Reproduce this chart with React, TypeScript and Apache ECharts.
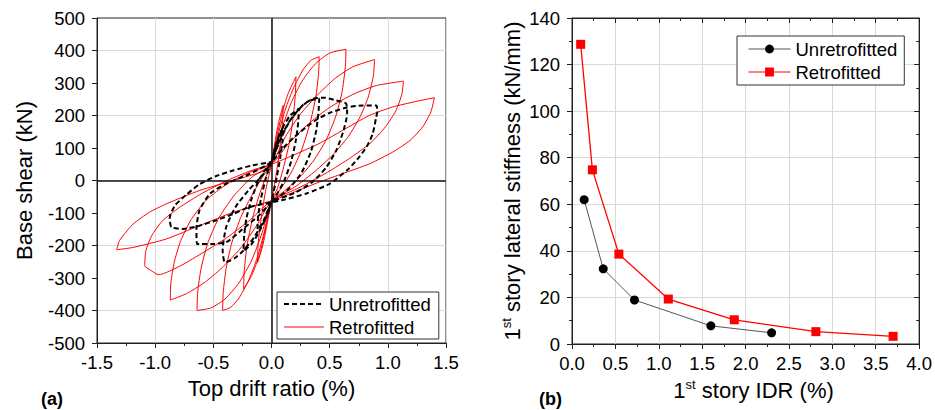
import React, { useEffect, useRef } from "react";
import * as echarts from "echarts";

const FONT = '"Liberation Sans", Arial, Helvetica, sans-serif';

// ---------- Panel (a): hysteresis, [top drift ratio (%), base shear (kN)] ----------
const retrofittedCycle1 = [
  [0, 50], [0.03, 120], [0.065, 185], [0.1, 231], [0.095, 180], [0.075, 110], [0.045, 30], [0.015, -35],
  [0, -62], [-0.035, -130], [-0.075, -200], [-0.12, -253], [-0.115, -195], [-0.09, -120], [-0.055, -40], [-0.02, 20], [0, 50],
];
const retrofittedCycle2 = [
  [0, 50], [0.04, 125], [0.09, 205], [0.14, 265], [0.21, 319], [0.205, 265], [0.185, 190], [0.15, 110], [0.1, 35], [0.05, -25],
  [0, -62], [-0.05, -145], [-0.1, -225], [-0.17, -292], [-0.24, -334], [-0.235, -280], [-0.21, -200], [-0.165, -120], [-0.11, -50], [-0.05, 10], [0, 50],
];
const retrofittedCycle3 = [
  [0, 50], [0.06, 145], [0.12, 220], [0.19, 285], [0.27, 340], [0.34, 370], [0.41, 381], [0.405, 330], [0.38, 255], [0.33, 175], [0.26, 95], [0.17, 25], [0.08, -25],
  [0, -62], [-0.06, -155], [-0.12, -235], [-0.2, -310], [-0.28, -362], [-0.35, -390], [-0.42, -400], [-0.415, -345], [-0.39, -270], [-0.34, -190], [-0.26, -110], [-0.16, -40], [-0.07, 15], [0, 50],
];
const retrofittedCycle4 = [
  [0, 50], [0.08, 150], [0.17, 240], [0.27, 310], [0.38, 360], [0.5, 392], [0.64, 404], [0.635, 350], [0.605, 270], [0.55, 195], [0.47, 125], [0.36, 60], [0.23, 5], [0.1, -35],
  [0, -62], [-0.08, -160], [-0.17, -245], [-0.28, -315], [-0.4, -365], [-0.52, -392], [-0.64, -400], [-0.635, -345], [-0.605, -270], [-0.55, -195], [-0.46, -120], [-0.33, -50], [-0.17, 10], [0, 50],
];
const retrofittedCycle5 = [
  [0, 50], [0.12, 135], [0.25, 205], [0.4, 265], [0.55, 315], [0.7, 350], [0.886, 372], [0.875, 320], [0.83, 255], [0.76, 195], [0.66, 135], [0.53, 80], [0.38, 30], [0.2, -20],
  [0, -62], [-0.13, -140], [-0.27, -210], [-0.43, -270], [-0.58, -315], [-0.73, -348], [-0.87, -368], [-0.865, -315], [-0.835, -250], [-0.78, -185], [-0.69, -120], [-0.56, -60], [-0.38, -10], [-0.19, 25], [0, 50],
];
const retrofittedCycle6 = [
  [0, 50], [0.15, 115], [0.32, 175], [0.5, 225], [0.7, 265], [0.9, 292], [1.135, 306], [1.12, 265], [1.07, 215], [0.98, 165], [0.85, 115], [0.68, 70], [0.48, 25], [0.25, -20],
  [0, -62], [-0.18, -120], [-0.38, -175], [-0.58, -220], [-0.78, -262], [-0.97, -290], [-1.04, -276], [-1.09, -262], [-1.08, -216], [-1.03, -170], [-0.94, -125], [-0.8, -85], [-0.6, -40], [-0.38, 0], [-0.18, 30], [0, 50],
];
const retrofittedCycle7 = [
  [0, 50], [0.2, 80], [0.4, 112], [0.61, 154], [0.84, 200], [1.04, 226], [1.24, 243], [1.4, 255], [1.37, 211], [1.3, 165], [1.19, 123], [1.04, 87], [0.84, 51], [0.61, 21], [0.41, -5], [0.2, -35],
  [0, -62], [-0.33, -98], [-0.62, -139], [-0.905, -180], [-1.19, -206], [-1.33, -213], [-1.307, -185], [-1.19, -134], [-1.05, -98], [-0.905, -72], [-0.62, -31], [-0.33, 0], [-0.05, 31], [0, 50],
];

const unretrofittedCycle1 = [
  [0, 57], [0.03, 100], [0.065, 140], [0.1, 164], [0.095, 125], [0.075, 70], [0.045, 10], [0.015, -40],
  [0, -67], [-0.03, -100], [-0.07, -130], [-0.12, -150], [-0.115, -110], [-0.09, -55], [-0.05, 5], [-0.02, 40], [0, 57],
];
const unretrofittedCycle2 = [
  [0, 57], [0.05, 120], [0.1, 165], [0.16, 200], [0.235, 221], [0.23, 180], [0.21, 125], [0.17, 60], [0.11, 0], [0.05, -40],
  [0, -67], [-0.05, -115], [-0.11, -160], [-0.17, -195], [-0.24, -216], [-0.235, -170], [-0.215, -115], [-0.17, -55], [-0.11, 0], [-0.05, 35], [0, 57],
];
const unretrofittedCycle3 = [
  [0, 57], [0.07, 125], [0.15, 180], [0.24, 220], [0.32, 245], [0.41, 252], [0.405, 215], [0.385, 155], [0.34, 90], [0.26, 25], [0.15, -25], [0.05, -55],
  [0, -67], [-0.07, -125], [-0.15, -175], [-0.24, -215], [-0.32, -240], [-0.4, -252], [-0.42, -216], [-0.39, -144], [-0.31, -82], [-0.2, -31], [-0.08, 15], [0, 57],
];
const unretrofittedCycle4 = [
  [0, 57], [0.08, 130], [0.17, 190], [0.27, 232], [0.36, 252], [0.45, 255], [0.55, 247], [0.64, 237], [0.65, 205], [0.62, 155], [0.56, 95], [0.47, 40], [0.35, -5], [0.2, -38],
  [0, -67], [-0.1, -105], [-0.25, -150], [-0.38, -188], [-0.5, -195], [-0.64, -195], [-0.645, -150], [-0.62, -93], [-0.53, -41], [-0.39, -10], [-0.19, 20], [0, 57],
];
const unretrofittedCycle5 = [
  [0, 57], [0.1, 100], [0.2, 135], [0.3, 165], [0.4, 190], [0.5, 208], [0.64, 224], [0.78, 231], [0.9, 231], [0.91, 212], [0.9, 195], [0.87, 144], [0.82, 105], [0.76, 75], [0.66, 35], [0.5, -10], [0.3, -40], [0.12, -58],
  [0, -67], [-0.19, -82], [-0.33, -103], [-0.48, -123], [-0.62, -139], [-0.76, -149], [-0.86, -144], [-0.875, -115], [-0.83, -77], [-0.74, -46], [-0.62, -12], [-0.48, 13], [-0.33, 31], [-0.17, 46], [0, 57],
];

const retrofittedHysteresis = [
  ...retrofittedCycle1, ...retrofittedCycle2, ...retrofittedCycle3, ...retrofittedCycle4,
  ...retrofittedCycle5, ...retrofittedCycle6, ...retrofittedCycle7,
];
const unretrofittedHysteresis = [
  ...unretrofittedCycle1, ...unretrofittedCycle2, ...unretrofittedCycle3, ...unretrofittedCycle4, ...unretrofittedCycle5,
];

// ---------- Panel (b): 1st story lateral stiffness vs 1st story IDR ----------
const unretrofittedIDR = [0.14, 0.36, 0.72, 1.6, 2.3];
const unretrofittedStiffness = [62, 32.3, 18.9, 7.8, 4.8];
const retrofittedIDR = [0.1, 0.235, 0.54, 1.11, 1.87, 2.81, 3.7];
const retrofittedStiffness = [128.7, 74.8, 38.6, 19.3, 10.4, 5.3, 3.3];

const TICK_FONT = 18.5;
const TITLE_FONT = 22;
const FRAME = "#222";
const GRIDC = "#d9d9d9";

const zip = (xs: number[], ys: number[]) => xs.map((x, i) => [x, ys[i]]);

function buildOption() {
  const labelStyle = { fontSize: TICK_FONT, color: "#000", fontFamily: FONT };
  const titleStyle = { fontSize: TITLE_FONT, color: "#000", fontFamily: FONT };
  const axisLine = { onZero: false, lineStyle: { color: FRAME, width: 1 } };
  const hiddenSymbol = { color: "rgba(0,0,0,0)", borderWidth: 0, opacity: 0 };
  return {
    animation: false,
    textStyle: { fontFamily: FONT },
    grid: [
      { left: 97, top: 18, width: 349, height: 325, show: true, borderColor: FRAME, borderWidth: 1, backgroundColor: "transparent" },
      { left: 572, top: 18, width: 348, height: 326, show: true, borderColor: FRAME, borderWidth: 1, backgroundColor: "transparent" },
    ],
    xAxis: [
      {
        gridIndex: 0, type: "value", min: -1.5, max: 1.5, interval: 0.5, position: "bottom",
        axisLine, axisTick: { show: true, length: 5, lineStyle: { color: FRAME } },
        minorTick: { show: true, splitNumber: 2, length: 3, lineStyle: { color: FRAME } },
        axisLabel: { ...labelStyle, margin: 10, formatter: (v: number) => v.toFixed(1) },
        splitLine: { show: true, lineStyle: { color: GRIDC, width: 1 } },
        name: "Top drift ratio (%)", nameLocation: "middle", nameGap: 34, nameTextStyle: titleStyle,
      },
      {
        gridIndex: 1, type: "value", min: 0, max: 4, interval: 0.5, position: "bottom",
        axisLine, axisTick: { show: true, length: 5, lineStyle: { color: FRAME } },
        minorTick: { show: true, splitNumber: 2, length: 3, lineStyle: { color: FRAME } },
        axisLabel: { ...labelStyle, margin: 10, formatter: (v: number) => v.toFixed(1) },
        splitLine: { show: true, lineStyle: { color: GRIDC, width: 1 } },
        name: "{n|1}{s|st}{n| story IDR (%)}", nameLocation: "middle", nameGap: 34,
        nameTextStyle: {
          ...titleStyle, padding: [0, 0, 0, 16],
          rich: {
            n: { fontSize: TITLE_FONT, fontFamily: FONT, color: "#000", lineHeight: 24 },
            s: { fontSize: 13, fontFamily: FONT, color: "#000", verticalAlign: "top", lineHeight: 14 },
          },
        },
      },
      {
        gridIndex: 1, type: "value", min: 0, max: 4, interval: 0.5, position: "top",
        axisLine, axisTick: { show: true, inside: true, length: 5, lineStyle: { color: FRAME } },
        minorTick: { show: true, splitNumber: 2, length: 3, lineStyle: { color: FRAME } },
        axisLabel: { show: false }, splitLine: { show: false },
      },
    ],
    yAxis: [
      {
        gridIndex: 0, type: "value", min: -500, max: 500, interval: 100, position: "left",
        axisLine, axisTick: { show: true, length: 5, lineStyle: { color: FRAME } },
        axisLabel: { ...labelStyle, margin: 12 },
        splitLine: { show: true, lineStyle: { color: ["rgba(0,0,0,0)", GRIDC], width: 1 } },
        name: "Base shear (kN)", nameLocation: "middle", nameGap: 62, nameTextStyle: titleStyle,
      },
      {
        gridIndex: 1, type: "value", min: 0, max: 140, interval: 20, position: "left",
        axisLine, axisTick: { show: true, length: 5, lineStyle: { color: FRAME } },
        minorTick: { show: true, splitNumber: 2, length: 3, lineStyle: { color: FRAME } },
        axisLabel: { ...labelStyle, margin: 12 },
        splitLine: { show: true, lineStyle: { color: GRIDC, width: 1 } },
        name: "{n|1}{s|st}{n| story lateral stiffness (kN/mm)}", nameLocation: "middle", nameGap: 48,
        nameTextStyle: {
          ...titleStyle,
          rich: {
            n: { fontSize: TITLE_FONT, fontFamily: FONT, color: "#000", lineHeight: 24 },
            s: { fontSize: 13, fontFamily: FONT, color: "#000", verticalAlign: "top", lineHeight: 14 },
          },
        },
      },
      {
        gridIndex: 1, type: "value", min: 0, max: 140, interval: 20, position: "right",
        axisLine, axisTick: { show: true, inside: true, length: 5, lineStyle: { color: FRAME } },
        minorTick: { show: true, splitNumber: 2, length: 3, lineStyle: { color: FRAME } },
        axisLabel: { show: false }, splitLine: { show: false },
      },
    ],
    legend: [
      {
        left: 277, top: 292, orient: "vertical", selectedMode: false,
        padding: [2, 8, 2, 6], itemGap: 3, itemWidth: 40, itemHeight: 14,
        borderColor: "#333", borderWidth: 1, backgroundColor: "#fff",
        textStyle: { fontSize: TICK_FONT, color: "#000", fontFamily: FONT, lineHeight: 20 },
        data: [
          { name: "Unretrofitted", lineStyle: { width: 2 }, itemStyle: hiddenSymbol },
          { name: "Retrofitted", lineStyle: { width: 1 }, itemStyle: hiddenSymbol },
        ],
      },
      {
        left: 737, top: 36, orient: "vertical", selectedMode: false,
        padding: [3, 7, 3, 11], itemGap: 3, itemWidth: 42, itemHeight: 11,
        borderColor: "#333", borderWidth: 1, backgroundColor: "#fff",
        textStyle: { fontSize: TICK_FONT, color: "#000", fontFamily: FONT, lineHeight: 20 },
        formatter: (n: string) => n.replace("b:", ""),
        data: [
          { name: "b:Unretrofitted", lineStyle: { width: 1 } },
          { name: "b:Retrofitted", lineStyle: { width: 1 } },
        ],
      },
    ],
    graphic: [
      { type: "text", left: 41, top: 390, style: { text: "(a)", font: `bold 18px ${FONT}`, fill: "#000" } },
      { type: "text", left: 539, top: 390, style: { text: "(b)", font: `bold 18px ${FONT}`, fill: "#000" } },
    ],
    series: [
      {
        name: "Retrofitted", type: "line", xAxisIndex: 0, yAxisIndex: 0,
        data: retrofittedHysteresis, symbol: "none", showSymbol: false, smooth: 0.2,
        lineStyle: { color: "#ff0000", width: 1 }, itemStyle: { color: "#ff0000" }, z: 3,
        markLine: {
          silent: true, symbol: ["none", "none"], label: { show: false },
          lineStyle: { color: "#111", width: 1.5, type: "solid" },
          data: [{ xAxis: 0 }, { yAxis: 0 }],
        },
      },
      {
        name: "Unretrofitted", type: "line", xAxisIndex: 0, yAxisIndex: 0,
        data: unretrofittedHysteresis, symbol: "none", showSymbol: false, smooth: 0.2,
        lineStyle: { color: "#000", width: 2, type: [5, 3] }, itemStyle: { color: "#000" }, z: 4,
      },
      {
        name: "b:Unretrofitted", type: "line", xAxisIndex: 1, yAxisIndex: 1,
        data: zip(unretrofittedIDR, unretrofittedStiffness), symbol: "circle", symbolSize: 9,
        lineStyle: { color: "#555", width: 1 }, itemStyle: { color: "#000" }, z: 4,
      },
      {
        name: "b:Retrofitted", type: "line", xAxisIndex: 1, yAxisIndex: 1,
        data: zip(retrofittedIDR, retrofittedStiffness), symbol: "rect", symbolSize: 9,
        lineStyle: { color: "#ff0000", width: 1.3 }, itemStyle: { color: "#ff0000" }, z: 4,
      },
    ],
  };
}

export default function App() {
  const ref = useRef<HTMLDivElement>(null);
  useEffect(() => {
    if (!ref.current) return;
    const chart = echarts.init(ref.current, null, { renderer: "svg" });
    chart.setOption(buildOption() as any);
    return () => chart.dispose();
  }, []);
  return (
    <div
      ref={ref}
      style={{ position: "fixed", left: 0, top: 0, width: 935, height: 410, background: "#fff" }}
    />
  );
}
